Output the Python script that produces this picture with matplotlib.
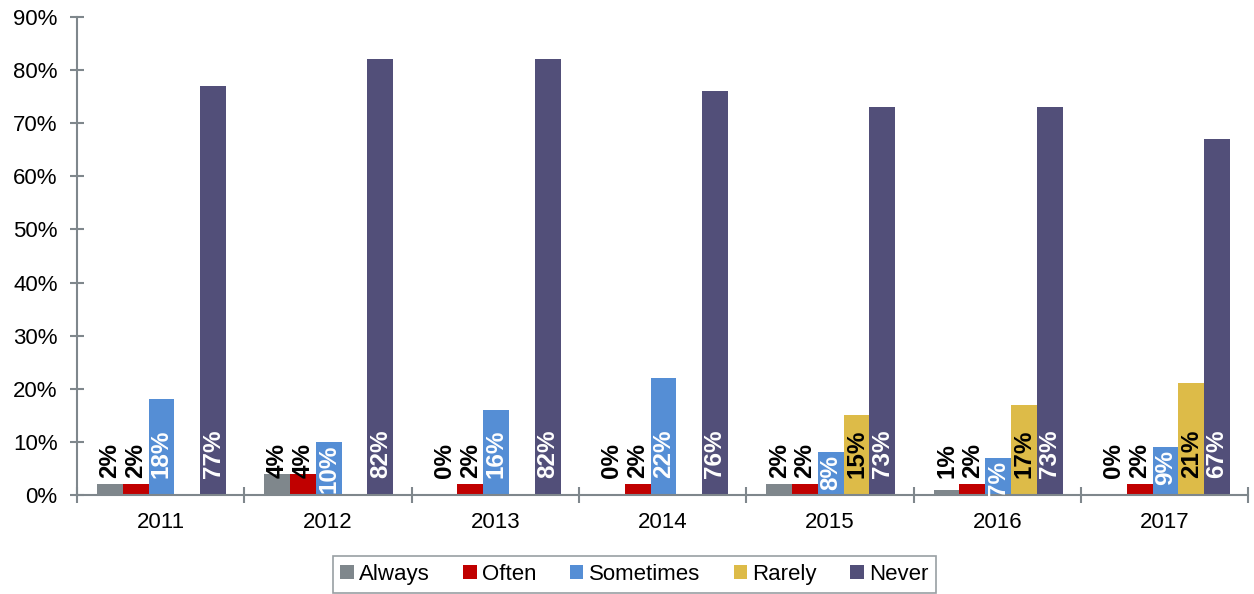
import numpy as np
import matplotlib.pyplot as plt
from matplotlib.ticker import FixedLocator, PercentFormatter

plt.rcParams['font.family'] = ['Liberation Sans', 'DejaVu Sans']

years = ['2011', '2012', '2013', '2014', '2015', '2016', '2017']
series = ['Always', 'Often', 'Sometimes', 'Rarely', 'Never']
always = [2, 4, 0, 0, 2, 1, 0]
often = [2, 4, 2, 2, 2, 2, 2]
sometimes = [18, 10, 16, 22, 8, 7, 9]
rarely = [np.nan, np.nan, np.nan, np.nan, 15, 17, 21]
never = [77, 82, 82, 76, 73, 73, 67]

values = [always, often, sometimes, rarely, never]
colors = ['#7F878C', '#C00000', '#558ED5', '#DDBB48', '#524F79']
label_colors = ['black', 'black', 'white', 'black', 'white']
axis_col = '#7F878C'

fig = plt.figure(figsize=(12.54, 5.94), dpi=100)
ax = fig.add_axes([0.0614, 0.1667, 0.934, 0.8047])

x = np.arange(len(years))
w = 0.154
offsets = (np.arange(5) - 2) * w + 0.005

for vals, name, col, lc, off in zip(values, series, colors, label_colors, offsets):
    v = np.array(vals, dtype=float)
    ax.bar(x + off, np.nan_to_num(v), w, color=col, label=name)
    for xi, val in zip(x, v):
        if np.isnan(val):
            continue
        if 5 < val <= 10:
            # short-ish bars: label sits at the top inside the bar
            ax.annotate(f'{val:.0f}%', (xi + off, val), xytext=(0, -2),
                        textcoords='offset points', rotation=90,
                        ha='center', va='top', fontsize=17.5,
                        fontweight='bold', color=lc)
        else:
            ax.annotate(f'{val:.0f}%', (xi + off, 0), xytext=(0, 12),
                        textcoords='offset points', rotation=90,
                        ha='center', va='bottom', fontsize=17.5,
                        fontweight='bold', color=lc)

ax.set_xlim(-0.5, len(years) - 0.5)
ax.set_ylim(0, 90)
ax.set_yticks(np.arange(0, 91, 10))
ax.yaxis.set_major_formatter(PercentFormatter(decimals=0))
ax.set_xticks(x)
ax.set_xticklabels(years)
ax.xaxis.set_minor_locator(FixedLocator(np.arange(-0.5, len(years), 1)))
ax.tick_params(axis='x', which='major', length=0, labelsize=16, pad=12)
ax.tick_params(axis='x', which='minor', direction='inout', length=11,
               color=axis_col, width=1.5)
ax.tick_params(axis='y', direction='inout', length=10, color=axis_col,
               width=1.5, labelsize=16, pad=9)

for s in ['top', 'right']:
    ax.spines[s].set_visible(False)
for s in ['left', 'bottom']:
    ax.spines[s].set_color(axis_col)
    ax.spines[s].set_linewidth(1.5)

handles, labels = ax.get_legend_handles_labels()
leg = fig.legend(handles, labels, loc='upper center',
                 bbox_to_anchor=(0.506, 0.064), ncol=5,
                 fontsize=16, frameon=True, fancybox=False, handlelength=0.6,
                 handleheight=0.6, handletextpad=0.25, columnspacing=1.5,
                 borderpad=0.35, borderaxespad=0)
leg.get_frame().set_edgecolor(axis_col)
leg.get_frame().set_linewidth(1.2)

fig.savefig('out.png', dpi=100)
